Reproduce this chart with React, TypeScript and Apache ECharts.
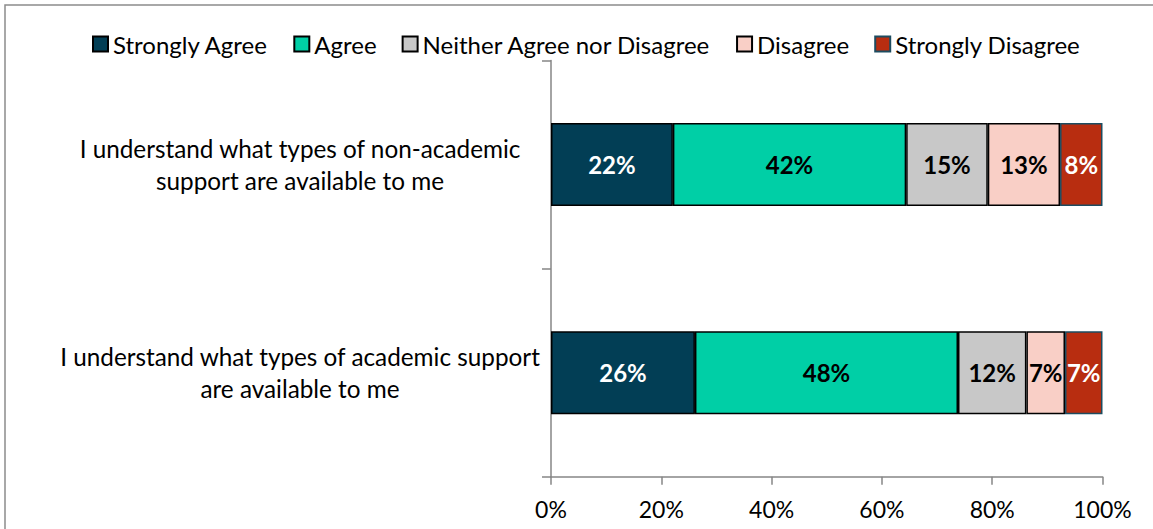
import React, { useEffect, useRef } from "react";
import * as echarts from "echarts";

const categories = [
  "I understand what types of non-academic\nsupport are available to me",
  "I understand what types of academic support\nare available to me",
];
const seriesNames = [
  "Strongly Agree",
  "Agree",
  "Neither Agree nor Disagree",
  "Disagree",
  "Strongly Disagree",
];
const stronglyAgree = [22.1, 26.1];
const agree = [42.3, 47.7];
const neither = [14.8, 12.4];
const disagree = [13.1, 7.0];
const stronglyDisagree = [7.7, 6.8];
const xTicks = [0, 20, 40, 60, 80, 100];

const seriesValues = [stronglyAgree, agree, neither, disagree, stronglyDisagree];
const fills = ["#023E55", "#00CFA6", "#C8C8C8", "#F9CFC6", "#B82D10"];
const borders = ["#000000", "#000000", "#000000", "#000000", "#1D4C60"];
const labelColors = ["#ffffff", "#000000", "#000000", "#000000", "#ffffff"];

const FONT = "Lato";

export default function App() {
  const ref = useRef<HTMLDivElement>(null);
  useEffect(() => {
    if (!ref.current) return;
    const chart = echarts.init(ref.current, null, { renderer: "svg" });
    chart.setOption({
      animation: false,
      backgroundColor: "#ffffff",
      textStyle: { fontFamily: FONT },
      graphic: [
        {
          type: "rect",
          shape: { x: 5, y: 5, width: 1200, height: 600 },
          style: { fill: "none", stroke: "#8C8C8C", lineWidth: 1.5 },
          silent: true,
        },
      ],
      legend: {
        left: 87,
        top: 27,
        itemWidth: 15,
        itemHeight: 15,
        itemGap: 25,
        icon: "rect",
        textStyle: { fontFamily: FONT, fontSize: 24, color: "#000000" },
        data: seriesNames,
      },
      grid: { left: 551, right: 50.5, top: 60.5, bottom: 52.3 },
      xAxis: {
        type: "value",
        min: 0,
        max: 100,
        interval: 20,
        axisLine: { show: true, lineStyle: { color: "#868686", width: 1.5 } },
        axisTick: { show: true, length: 8, lineStyle: { color: "#868686", width: 1.5 } },
        splitLine: { show: false },
        axisLabel: {
          margin: 21,
          fontFamily: FONT,
          fontSize: 23,
          color: "#000000",
          formatter: (v: number) => (xTicks.includes(v) ? v + "%" : ""),
        },
      },
      yAxis: {
        type: "category",
        inverse: true,
        data: categories,
        axisLine: { show: true, lineStyle: { color: "#868686", width: 1.5 } },
        axisTick: { show: true, length: 9, lineStyle: { color: "#868686", width: 1.5 } },
        axisLabel: {
          align: "center",
          margin: 251,
          fontFamily: FONT,
          fontSize: 24.3,
          lineHeight: 32,
          color: "#000000",
        },
      },
      series: seriesNames.map((name, i) => ({
        name,
        type: "bar",
        stack: "total",
        barWidth: 83,
        data: seriesValues[i],
        itemStyle: { color: fills[i], borderColor: borders[i], borderWidth: 1.5 },
        label: {
          show: true,
          position: "inside",
          fontFamily: FONT,
          fontSize: 24,
          fontWeight: "bold",
          color: labelColors[i],
          formatter: (p: any) => Math.round(p.value) + "%",
        },
      })),
    });
    return () => chart.dispose();
  }, []);
  return (
    <div
      ref={ref}
      style={{ position: "fixed", left: 0, top: 0, width: 1153, height: 529 }}
    />
  );
}
